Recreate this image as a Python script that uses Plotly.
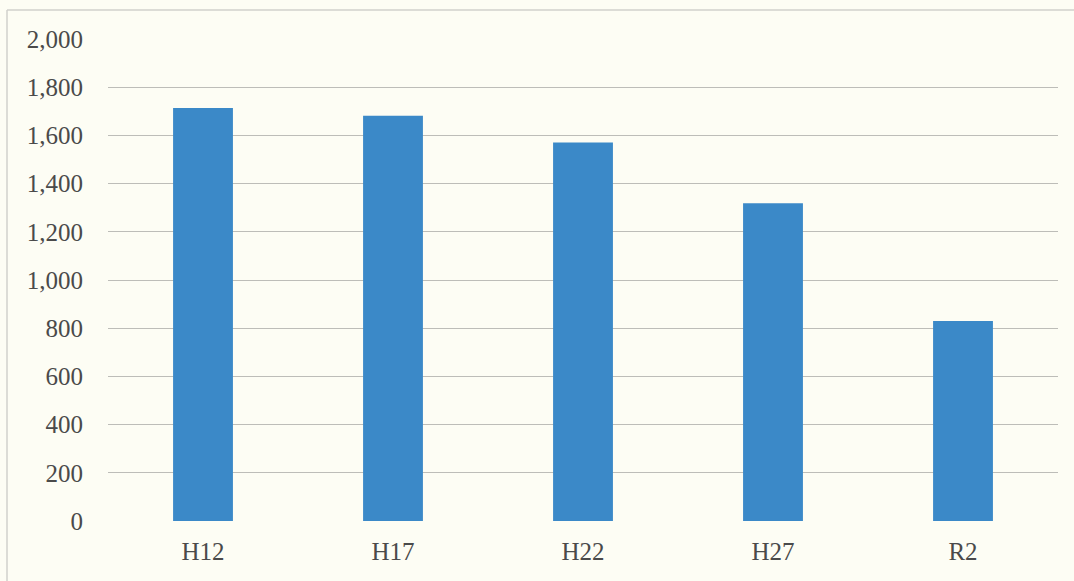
import plotly.graph_objects as go

categories = ["H12", "H17", "H22", "H27", "R2"]
values = [1714, 1682, 1571, 1318, 830]
y_ticks = [0, 200, 400, 600, 800, 1000, 1200, 1400, 1600, 1800, 2000]
y_tick_labels = ["0", "200", "400", "600", "800", "1,000", "1,200", "1,400", "1,600", "1,800", "2,000"]

W, H = 1074, 581
L, R, T, B = 108, 16, 39, 60
pw, ph = W - L - R, H - T - B

def px(x):
    return (x - L) / pw

def py(y):
    return (H - B - y) / ph

fig = go.Figure(go.Bar(
    x=categories, y=values,
    marker=dict(color="#3b89c8", line=dict(width=0)),
    width=0.315,
))

font = dict(family="Liberation Serif, DejaVu Serif, serif", size=25, color="#4a4a4a")

fig.update_layout(
    width=W, height=H,
    margin=dict(l=L, r=R, t=T, b=B),
    paper_bgcolor="#fdfdf4",
    plot_bgcolor="#fdfdf4",
    font=font,
    showlegend=False,
    xaxis=dict(
        showgrid=False, zeroline=False, showline=False,
        ticks="", ticklabelstandoff=13,
        tickfont=font,
    ),
    yaxis=dict(
        range=[0, 2000],
        tickvals=y_ticks, ticktext=y_tick_labels,
        showgrid=True, gridcolor="#bdbdb8", gridwidth=1,
        zeroline=False, showline=False,
        ticks="", ticklabelstandoff=24,
        tickfont=font,
    ),
    shapes=[
        dict(type="line", xref="paper", yref="paper",
             x0=px(7), x1=px(1074), y0=py(10), y1=py(10),
             line=dict(color="#d0d0cc", width=1.5)),
        dict(type="line", xref="paper", yref="paper",
             x0=px(7), x1=px(7), y0=py(10), y1=py(581),
             line=dict(color="#d0d0cc", width=1.5)),
    ],
)

fig.write_html("out.html")
